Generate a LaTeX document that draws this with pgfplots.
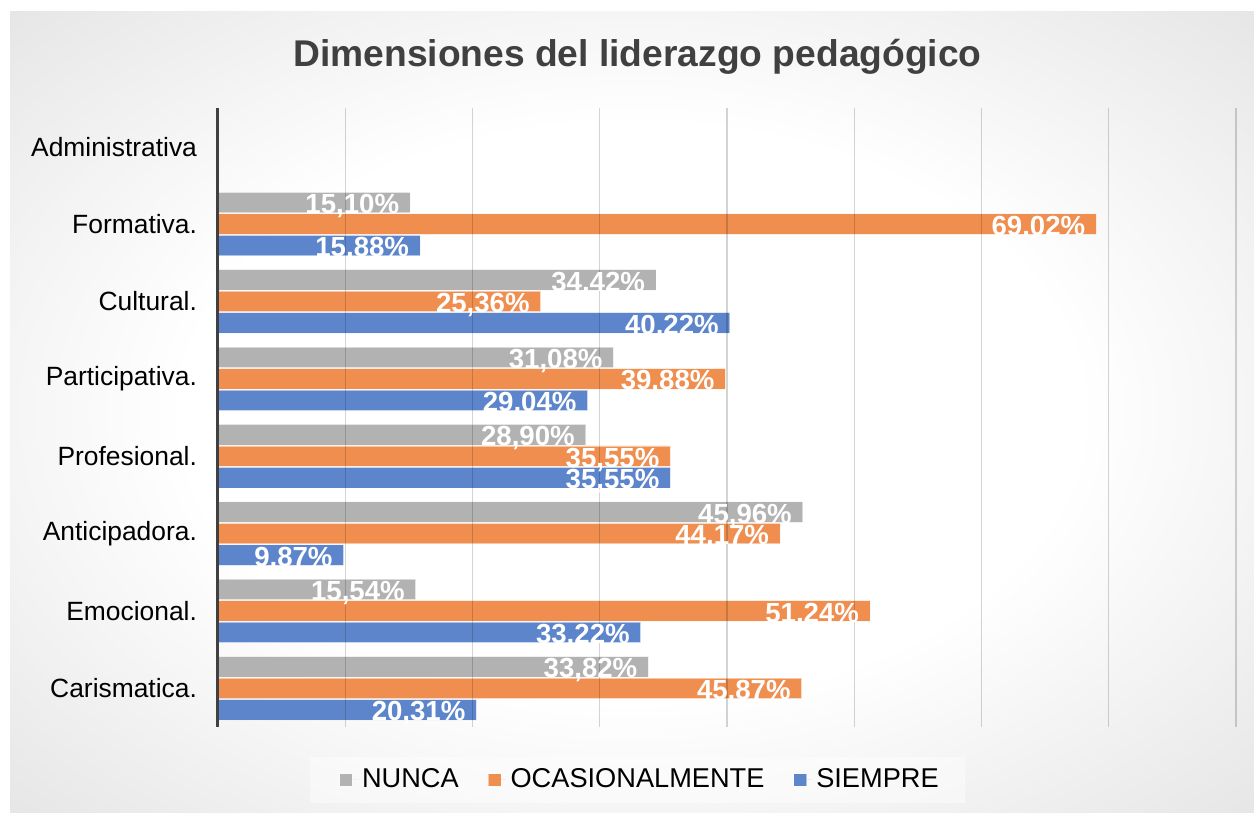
\documentclass[border=0pt]{standalone}
\usepackage{pgfplots}
\pgfplotsset{compat=1.18}
\usepackage{fontspec}
\setmainfont{Liberation Sans}
\definecolor{cgray}{HTML}{B2B2B2}
\definecolor{corange}{HTML}{EF8E4E}
\definecolor{cblue}{HTML}{5D85CB}
\definecolor{ctitle}{HTML}{404040}
\pgfdeclareradialshading{chartbg}{\pgfpoint{0bp}{0bp}}{color(0bp)=(white); color(18bp)=(white); color(50bp)=(black!18); color(71bp)=(black!25)}
\begin{document}
\begin{tikzpicture}
\fill[white] (0pt,0pt) rectangle (627pt,406.5pt);
\shade[shading=chartbg] (5pt,0pt) rectangle (627pt,400.5pt);
\fill[white, opacity=0.45] (155pt,5pt) rectangle (482.5pt,28pt);
\node[anchor=base, font=\bfseries\fontsize{18.6}{22}\selectfont, text=ctitle] at (318.75pt,373pt) {Dimensiones del liderazgo pedagógico};
\begin{axis}[
  at={(109pt,43pt)}, anchor=south west, scale only axis,
  width=509pt, height=309.5pt,
  xbar, xmin=0, xmax=80, ymin=-0.5, ymax=7.5,
  ytick={0,...,7},
  yticklabels={Carismatica.,Emocional.,Anticipadora.,Profesional.,Participativa.,Cultural.,Formativa.,Administrativa},
  xtick={10,20,...,80}, xticklabels={},
  xmajorgrids, grid style={draw=black, draw opacity=0.17, line width=0.6pt},
  extra x ticks={0}, extra x tick labels={},
  extra x tick style={grid style={draw=black!75, draw opacity=1, line width=1.5pt}},
  major tick length=0, axis line style={draw=none},
  axis on top,
  y tick label style={font=\fontsize{13.2}{15}\selectfont, xshift=-7pt},
  bar width=0.265,
  point meta=x,
  nodes near coords={\pgfmathprintnumber[fixed,fixed zerofill,precision=2,use comma,assume math mode=true]{\pgfplotspointmeta}\%},
  every node near coord/.append style={anchor=east, xshift=-2pt, yshift=-1.8pt, text=white, font=\bfseries\fontsize{13.8}{15}\selectfont},
  legend columns=3,
  legend style={at={(0.4155,-0.0856)}, anchor=center, draw=none, fill=none,
    font=\fontsize{13.6}{15}\selectfont,
    /tikz/every even column/.append style={column sep=12.5pt}},
  legend image code/.code={\fill[#1] (0pt,-3.2pt) rectangle (6.4pt,3.2pt); \path (6.4pt,0pt) -- (9pt,0pt);},
]
\addplot[fill=cgray, draw=white, draw opacity=0.5, bar shift=0.278] coordinates {(33.82,0) (15.54,1) (45.96,2) (28.90,3) (31.08,4) (34.42,5) (15.10,6)};
\addlegendentry{NUNCA}
\addplot[fill=corange, draw=white, draw opacity=0.5, bar shift=0] coordinates {(45.87,0) (51.24,1) (44.17,2) (35.55,3) (39.88,4) (25.36,5) (69.02,6)};
\addlegendentry{OCASIONALMENTE}
\addplot[fill=cblue, draw=white, draw opacity=0.5, bar shift=-0.278] coordinates {(20.31,0) (33.22,1) (9.87,2) (35.55,3) (29.04,4) (40.22,5) (15.88,6)};
\addlegendentry{SIEMPRE}
\end{axis}
\end{tikzpicture}
\end{document}
